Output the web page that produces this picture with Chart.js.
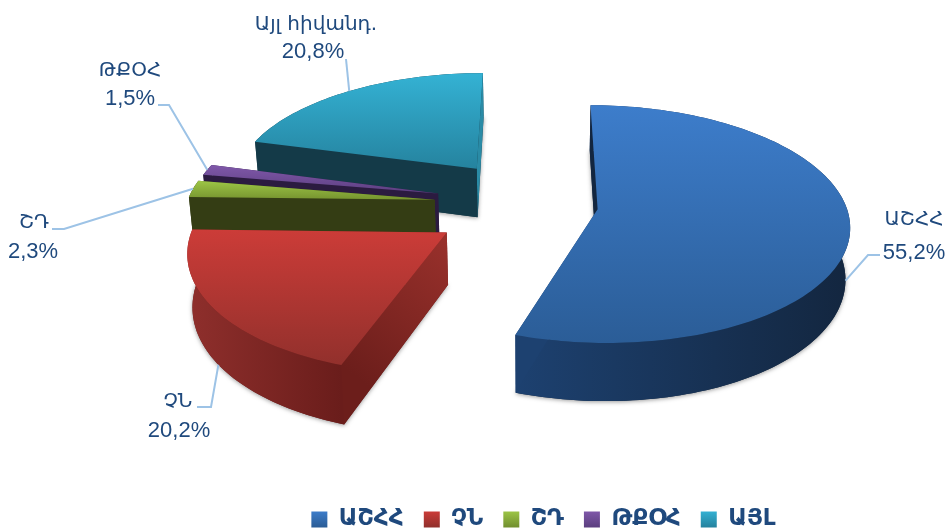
<!DOCTYPE html>
<html>
<head>
<meta charset="utf-8">
<style>
  html, body { margin: 0; padding: 0; background: #fff; }
  #chart { display: block; }
</style>
<script src="https://cdn.jsdelivr.net/npm/chart.js@4/dist/chart.umd.min.js"></script>
</head>
<body>
<canvas id="chart" width="946" height="532"></canvas>
<script>
const categories = ["ԱՇՀՀ", "ՉՆ", "ՇԴ", "ԹՔՕՀ", "ԱՅԼ"];
const pointNames = ["ԱՇՀՀ", "ՉՆ", "ՇԴ", "ԹՔՕՀ", "Այլ հիվանդ."];
const shares = [55.2, 20.2, 2.3, 1.5, 20.8];

const explode = [72, 100, 94, 98, 99];
// small hand corrections to each exploded slice
const nudge = [[0, 2], [1, 6], [-3, 2], [2, 0], [5, 0]];
const baseColors = ["#3a78c4", "#c43c38", "#94bc42", "#7a55a4", "#31a9ca"];
const legendColors = [
  ["#3d7dcb", "#2b5d97"], ["#cc3c38", "#92302c"], ["#9dc646", "#72902f"],
  ["#8058aa", "#5c3f80"], ["#34b2d4", "#25839f"]
];
const wallStyles = [
  { top: ["#3d7dcb", "#2b5d97"], outer: ["#1d4170", "#13263f"], start: ["#13263f", "#13263f"], end: "#1d4170" },
  { top: ["#cc3c38", "#92302c"], outer: ["#8f2f2c", "#6a1d1b"], start: ["#6c1e1b", "#9a312c"], end: "#7a2320" },
  { top: ["#9dc646", "#76932f"], outer: ["#343d14", "#343d14"], start: ["#343d14", "#343d14"], end: "#343d14" },
  { top: ["#8058aa", "#5c3f80"], outer: ["#2b1b40", "#2b1b40"], start: ["#2b1b40", "#2b1b40"], end: "#2b1b40" },
  { top: ["#34b2d4", "#25839f"], outer: ["#143a48", "#143a48"], start: ["#143a48", "#143a48"], end: "#2a8ba6" }
];
const paintOrder = [4, 3, 2, 0, 1];

// label text and leader line, the line starts on the slice itself
const callouts = [
  { depth: 1, bend: [[868, 255], [880, 255]], text: [914, 220], value: [914, 253] },
  { depth: 1, bend: [[211, 407], [197, 407]], text: [178, 402], value: [179, 431] },
  { depth: 0, bend: [[64, 229], [52, 229]], text: [34, 223], value: [33, 252] },
  { depth: 0, bend: [[169, 105], [158, 105]], text: [130, 71], value: [130, 99] },
  { depth: 0, bend: [[346, 59]], text: [316, 25], value: [313, 52] }
];

// perspective of the tilted pie
const vanishX = 534, horizonY = -725, planeDist = 955, eyeDist = 1992;
const thickness = 52, pieShiftX = -6, pieShiftY = -58;

function project(x, v, z) {
  const w = eyeDist / (eyeDist - v);
  const shrink = z ? 0.985 : 1;
  return [vanishX + x * w * shrink, horizonY + planeDist * w + (z ? thickness * w : 0)];
}

function trace(ctx, pts) {
  ctx.beginPath();
  pts.forEach((p, i) => (i ? ctx.lineTo(p[0], p[1]) : ctx.moveTo(p[0], p[1])));
  ctx.closePath();
}

function gradient(ctx, x0, y0, x1, y1, colors) {
  const g = ctx.createLinearGradient(x0, y0, x1, y1);
  g.addColorStop(0, colors[0]);
  g.addColorStop(1, colors[1]);
  return g;
}

function sliceGeometry(arc, i) {
  const mid = (arc.startAngle + arc.endAngle) / 2;
  const cx = pieShiftX + nudge[i][0] + Math.cos(mid) * explode[i];
  const cy = pieShiftY + nudge[i][1] + Math.sin(mid) * explode[i];
  const point = (a, z) => project(cx + Math.cos(a) * arc.outerRadius, cy + Math.sin(a) * arc.outerRadius, z);
  const span = arc.endAngle - arc.startAngle;
  const steps = Math.max(6, Math.ceil(span * 40));
  const outline = (z) => {
    const out = [];
    for (let s = 0; s <= steps; s++) out.push(point(arc.startAngle + (span * s) / steps, z));
    return out;
  };
  return { mid, point, apex: project(cx, cy, 0), apexLow: project(cx, cy, 1), rim: outline(0), rimLow: outline(1) };
}

const pie3d = {
  id: "pie3d",
  beforeDatasetDraw(chart) {
    const ctx = chart.ctx;
    const arcs = chart.getDatasetMeta(0).data;
    paintOrder.forEach((i) => {
      const g = sliceGeometry(arcs[i], i);
      const st = wallStyles[i];
      const rim = g.rim, low = g.rimLow;
      const first = rim[0], last = rim[rim.length - 1];

      // soft shadow under the block
      ctx.save();
      ctx.shadowColor = "rgba(0,0,0,0.4)";
      ctx.shadowBlur = 4;
      ctx.shadowOffsetY = 1;
      ctx.fillStyle = st.outer[1];
      trace(ctx, [g.apexLow].concat(low));
      ctx.fill();
      ctx.restore();

      // outer curved wall
      const xs = rim.map((p) => p[0]);
      ctx.fillStyle = gradient(ctx, Math.min(...xs), 0, Math.max(...xs), 0, st.outer);
      trace(ctx, rim.concat(low.slice().reverse()));
      ctx.fill();

      // wall at the end angle
      ctx.fillStyle = st.end;
      trace(ctx, [g.apex, last, low[low.length - 1], g.apexLow]);
      ctx.fill();

      // wall at the start angle
      ctx.fillStyle = gradient(ctx, first[0], first[1], g.apex[0], g.apex[1], st.start);
      trace(ctx, [g.apex, first, low[0], g.apexLow]);
      ctx.fill();

      // top face
      const ys = rim.concat([g.apex]).map((p) => p[1]);
      ctx.fillStyle = gradient(ctx, 0, Math.min(...ys), 0, Math.max(...ys), st.top);
      trace(ctx, [g.apex].concat(rim));
      ctx.fill();
    });
    return false;
  },
  afterDatasetsDraw(chart) {
    const ctx = chart.ctx;
    const arcs = chart.getDatasetMeta(0).data;
    ctx.save();
    ctx.textAlign = "center";
    ctx.textBaseline = "middle";
    callouts.forEach((c, i) => {
      const g = sliceGeometry(arcs[i], i);
      const from = g.point(g.mid, c.depth);
      ctx.strokeStyle = "#9dc3e6";
      ctx.lineWidth = 2;
      ctx.beginPath();
      ctx.moveTo(from[0], from[1]);
      c.bend.forEach((p) => ctx.lineTo(p[0], p[1]));
      ctx.stroke();
      ctx.fillStyle = "#1f497d";
      ctx.font = '20px "DejaVu Sans"';
      ctx.fillText(pointNames[i], c.text[0], c.text[1]);
      ctx.font = '22px "Liberation Sans"';
      ctx.fillText(shares[i].toFixed(1).replace(".", ",") + "%", c.value[0], c.value[1]);
    });
    ctx.restore();
  }
};

new Chart(document.getElementById("chart"), {
  type: "pie",
  plugins: [pie3d],
  data: {
    labels: categories,
    datasets: [{ data: shares, backgroundColor: baseColors, borderWidth: 0, radius: 255, offset: explode }]
  },
  options: {
    responsive: false,
    animation: false,
    layout: { padding: { left: 141, bottom: -9 } },
    plugins: {
      tooltip: { enabled: false },
      legend: {
        position: "bottom",
        labels: {
          boxWidth: 16,
          boxHeight: 16,
          padding: 20,
          color: "#1f497d",
          font: { family: "DejaVu Sans", size: 23, weight: "bold" },
          generateLabels(chart) {
            return categories.map((name, i) => ({
              text: name,
              fillStyle: gradient(chart.ctx, 0, 511, 0, 527, legendColors[i]),
              strokeStyle: "rgba(0,0,0,0)",
              lineWidth: 0,
              fontColor: "#1f497d",
              index: i
            }));
          }
        }
      }
    }
  }
});
</script>
</body>
</html>
